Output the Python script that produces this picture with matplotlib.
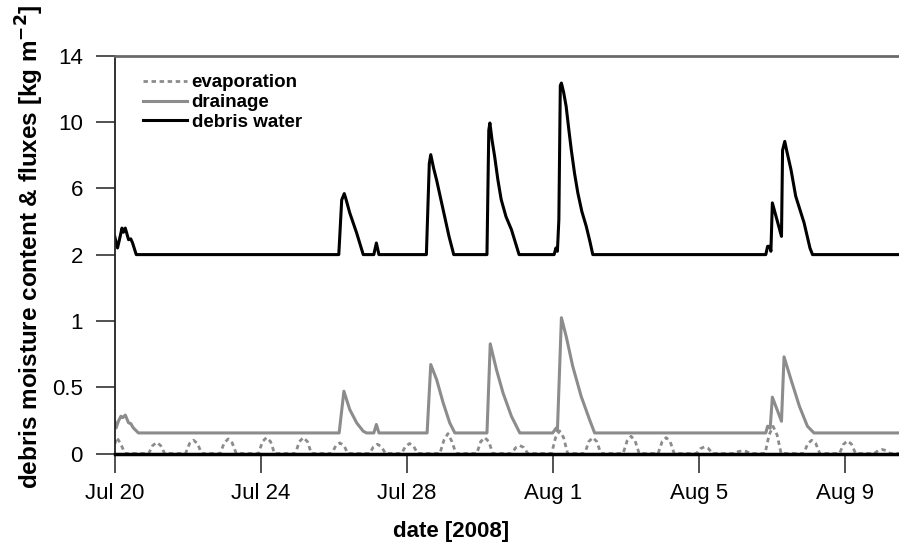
import numpy as np
import pandas as pd
import matplotlib
matplotlib.use("Agg")
import matplotlib.pyplot as plt

plt.rcParams['font.family'] = ['Liberation Sans', 'DejaVu Sans']

start = pd.Timestamp("2008-07-20")

# debris water content [kg m-2], days since Jul 20 00:00
water_t = [0.00, 0.077, 0.13, 0.20, 0.24, 0.29, 0.38, 0.44, 0.49, 0.59,
           6.14, 6.22, 6.29, 6.33, 6.44, 6.63, 6.81,
           7.10, 7.17, 7.24,
           8.54, 8.62, 8.66, 8.74, 8.82, 8.93, 9.04, 9.16, 9.29,
           10.20, 10.25, 10.28, 10.34, 10.41, 10.50, 10.59, 10.72, 10.87, 11.08,
           12.04, 12.09, 12.13, 12.17, 12.21, 12.24, 12.30, 12.37, 12.44, 12.51, 12.60, 12.69, 12.80, 12.92, 13.02, 13.10,
           17.84, 17.89, 17.95, 17.98, 18.02, 18.27, 18.30, 18.36, 18.42, 18.53, 18.66, 18.89, 19.05, 19.12,
           21.49]
water_v = [3.1, 2.4, 2.9, 3.6, 3.35, 3.6, 2.9, 2.95, 2.7, 2.0,
           2.0, 5.3, 5.68, 5.4, 4.52, 3.3, 2.0,
           2.0, 2.7, 2.0,
           2.0, 7.5, 8.03, 7.2, 6.5, 5.4, 4.3, 3.1, 2.0,
           2.0, 9.5, 9.94, 8.9, 7.93, 6.5, 5.32, 4.3, 3.51, 2.0,
           2.0, 2.4, 2.2, 4.1, 12.2, 12.35, 11.8, 10.94, 9.6, 8.33, 6.9, 5.72, 4.6, 3.71, 2.8, 2.0,
           2.0, 2.5, 2.5, 2.2, 5.12, 3.1, 8.3, 8.83, 8.2, 7.13, 5.52, 3.91, 2.4, 2.0,
           2.0]

# drainage [kg m-2]
drain_t = [0.00, 0.04, 0.10, 0.17, 0.22, 0.29, 0.38, 0.44, 0.51, 0.65,
           6.15, 6.28, 6.44, 6.63, 6.81, 6.90,
           7.10, 7.17, 7.24,
           8.56, 8.66, 8.82, 9.00, 9.18, 9.32,
           10.20, 10.29, 10.46, 10.64, 10.87, 11.10,
           12.00, 12.10, 12.13, 12.24, 12.37, 12.55, 12.78, 13.01, 13.15,
           17.84, 17.89, 17.96, 18.02, 18.27, 18.34, 18.53, 18.76, 18.98, 19.16,
           21.49]
drain_v = [0.243, 0.193, 0.243, 0.281, 0.27, 0.29, 0.231, 0.226, 0.193, 0.155,
           0.155, 0.47, 0.332, 0.231, 0.168, 0.155,
           0.155, 0.219, 0.155,
           0.155, 0.671, 0.558, 0.382, 0.231, 0.155,
           0.155, 0.827, 0.633, 0.457, 0.281, 0.155,
           0.155, 0.193, 0.17, 1.048, 0.884, 0.658, 0.432, 0.256, 0.155,
           0.155, 0.206, 0.19, 0.425, 0.243, 0.729, 0.558, 0.357, 0.206, 0.155,
           0.155]

# evaporation [kg m-2]
evap_t = [0.00, 0.06, 0.17, 0.28,
          0.93, 1.04, 1.15, 1.26, 1.37,
          1.94, 2.05, 2.16, 2.27, 2.38,
          2.89, 3.00, 3.11, 3.22, 3.33,
          3.94, 4.05, 4.16, 4.27, 4.38,
          4.95, 5.06, 5.17, 5.28, 5.39,
          5.95, 6.06, 6.17, 6.28, 6.39,
          6.98, 7.09, 7.20, 7.31, 7.42,
          7.86, 7.97, 8.08, 8.19, 8.30,
          8.91, 9.02, 9.13, 9.24, 9.35,
          9.92, 10.03, 10.14, 10.25, 10.36,
          10.88, 10.99, 11.10, 11.21, 11.32,
          11.97, 12.08, 12.19, 12.30, 12.41,
          12.88, 12.99, 13.10, 13.21, 13.32,
          13.93, 14.04, 14.15, 14.26, 14.37,
          14.89, 15.00, 15.11, 15.22, 15.33,
          15.94, 16.05, 16.16, 16.27, 16.38,
          16.98, 17.09, 17.20, 17.31, 17.42,
          17.82, 17.93, 18.04, 18.15, 18.26,
          18.88, 18.99, 19.10, 19.21, 19.32,
          19.86, 19.97, 20.08, 20.19, 20.30,
          20.81, 20.92, 21.03, 21.14, 21.25,
          21.49]
evap_v = [0.07, 0.12, 0.07, 0.0,
          0.0, 0.06, 0.083, 0.06, 0.0,
          0.0, 0.075, 0.10, 0.075, 0.0,
          0.0, 0.08, 0.11, 0.08, 0.0,
          0.0, 0.09, 0.12, 0.09, 0.0,
          0.0, 0.09, 0.12, 0.09, 0.0,
          0.0, 0.06, 0.08, 0.06, 0.0,
          0.0, 0.05, 0.07, 0.05, 0.0,
          0.0, 0.055, 0.075, 0.055, 0.0,
          0.0, 0.10, 0.15, 0.09, 0.0,
          0.0, 0.09, 0.12, 0.09, 0.0,
          0.0, 0.045, 0.06, 0.045, 0.0,
          0.0, 0.12, 0.17, 0.12, 0.0,
          0.0, 0.09, 0.12, 0.09, 0.0,
          0.0, 0.095, 0.13, 0.095, 0.0,
          0.0, 0.09, 0.12, 0.09, 0.0,
          0.0, 0.037, 0.05, 0.037, 0.0,
          0.0, 0.015, 0.02, 0.015, 0.0,
          0.0, 0.14, 0.205, 0.14, 0.0,
          0.0, 0.075, 0.10, 0.075, 0.0,
          0.0, 0.07, 0.095, 0.07, 0.0,
          0.0, 0.022, 0.03, 0.022, 0.0,
          0.0]

y_ticks = [0, 0.5, 1, 2, 6, 10, 14]
y_ticklabels = ["0", "0.5", "1", "2", "6", "10", "14"]
x_tick_dates = ["2008-07-20", "2008-07-24", "2008-07-28", "2008-08-01", "2008-08-05", "2008-08-09"]
x_ticklabels = ["Jul 20", "Jul 24", "Jul 28", "Aug 1", "Aug 5", "Aug 9"]


def to_dates(days):
    return start + pd.to_timedelta(np.asarray(days), unit="D")


# broken axis: 0-1 fluxes, 2-14 debris water
seg_in = [0, 1, 2, 14]
seg_out = [0, 1, 1.5, 3]


def fwd(y):
    return np.interp(y, seg_in, seg_out)


def inv(y):
    return np.interp(y, seg_out, seg_in)


fig = plt.figure(figsize=(8.99, 5.43), dpi=100)
ax = fig.add_axes([114.7 / 899, (543 - 453.5) / 543, (899 - 114.7) / 899, (453.5 - 55.7) / 543])
ax.set_yscale("function", functions=(fwd, inv))

gray = "#8c8c8c"
ax.plot(to_dates(evap_t), evap_v, color=gray, lw=2.0, dashes=(1.6, 1.3), label="evaporation")
ax.plot(to_dates(drain_t), drain_v, color=gray, lw=2.2, label="drainage")
ax.plot(to_dates(water_t), water_v, color="black", lw=2.2, label="debris water")

ax.set_ylim(0, 14)
ax.set_xlim(start, start + pd.Timedelta(days=21.49))
ax.set_yticks(y_ticks)
ax.set_yticklabels(y_ticklabels)
ax.set_xticks(pd.to_datetime(x_tick_dates))
ax.set_xticklabels(x_ticklabels)
ax.minorticks_off()

ax.spines["right"].set_visible(False)
ax.spines["top"].set_color("#6a6a6a")
ax.spines["top"].set_linewidth(2.0)
ax.spines["left"].set_linewidth(1.3)
ax.spines["left"].set_color("#222222")
ax.spines["bottom"].set_linewidth(2.5)
ax.tick_params(axis="both", direction="out", length=14, width=1.2, color="#333333", labelsize=16)
ax.tick_params(axis="y", pad=9)
ax.tick_params(axis="x", pad=7)

leg = ax.legend(loc="upper left", bbox_to_anchor=(143 / 899, 1 - 74 / 543), bbox_transform=fig.transFigure,
                frameon=False, prop={"weight": "bold", "size": 13.5}, handlelength=2.35,
                handletextpad=0.25, labelspacing=0.15, borderpad=0, borderaxespad=0)

fig.text(30 / 899, 1 - 247 / 543, "debris moisture content & fluxes [kg m$^{\\mathbf{-2}}$]",
         rotation=90, ha="center", va="center", fontsize=17.5, fontweight="bold")
fig.text(451 / 899, 1 - 531 / 543, "date [2008]", ha="center", va="center", fontsize=16, fontweight="bold")

fig.savefig("out.png", dpi=100)
